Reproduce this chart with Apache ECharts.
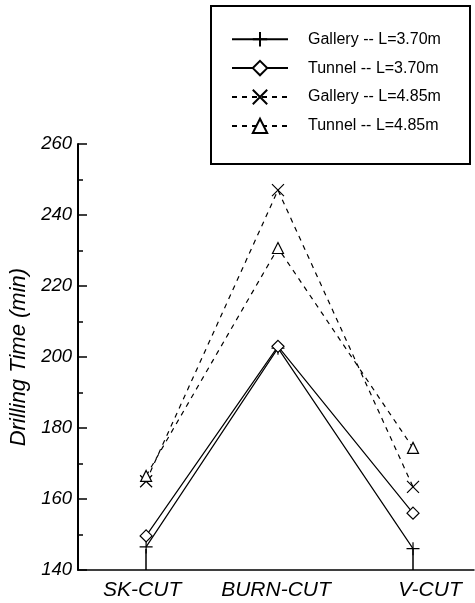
<!DOCTYPE html>
<html>
<head>
<meta charset="utf-8">
<script src="https://cdn.jsdelivr.net/npm/echarts@6/dist/echarts.min.js"></script>
<style>
  html, body { margin: 0; padding: 0; background: #fff; }
  #chart { width: 475px; height: 603px; }
</style>
</head>
<body>
<div id="chart"></div>
<script>
// cut types and where they sit on the (unevenly spaced) x axis
const cuts = ["SK-CUT", "BURN-CUT", "V-CUT"];
const cutPos = [1.72, 5.05, 8.46];
const cutLabelPos = [1.62, 5.0, 8.89];

// drilling time in minutes
const galleryL370 = [146.5, 202.5, 146];
const tunnelL370 = [149.6, 203, 156];
const galleryL485 = [165, 247, 163.4];
const tunnelL485 = [166.5, 230.7, 174.4];

const yTicks = [140, 160, 180, 200, 220, 240, 260];

const FONT = "'Liberation Sans', Arial, sans-serif";
const plusPath = "path://M0,5L10,5M5,0L5,10";
const crossPath = "path://M0,0L10,10M10,0L0,10";

const chart = echarts.init(document.getElementById("chart"));

function makeSeries(name, values, symbol, size, dashed) {
  return {
    name,
    type: "line",
    data: values.map((v, i) => [cutPos[i], v]),
    symbol,
    symbolSize: size,
    lineStyle: { color: "#000", width: 1.2, type: dashed ? [5, 5] : "solid" },
    itemStyle: { color: "#fff", borderColor: "#000", borderWidth: 1.2 },
    emphasis: { disabled: true },
  };
}

const option = {
  animation: false,
  backgroundColor: "#fff",
  grid: { left: 78, right: 1, top: 144, bottom: 33, outerBoundsMode: "none" },
  legend: {
    orient: "vertical",
    left: 231,
    top: 31,
    padding: 0,
    itemWidth: 56,
    itemHeight: 18,
    itemGap: 12.5,
    textStyle: { fontFamily: FONT, fontSize: 16, color: "#000", padding: [0, 0, 0, 15] },
    data: ["Gallery -- L=3.70m", "Tunnel -- L=3.70m", "Gallery -- L=4.85m", "Tunnel -- L=4.85m"],
  },
  graphic: [
    {
      type: "rect",
      shape: { x: 211, y: 6, width: 259, height: 158 },
      style: { fill: "none", stroke: "#000", lineWidth: 2 },
    },
  ],
  xAxis: {
    type: "value",
    min: 0,
    max: 10,
    splitLine: { show: false },
    axisLine: { lineStyle: { color: "#000", width: 1.5 } },
    axisTick: {
      show: true,
      inside: true,
      length: 21,
      customValues: [cutPos[0], cutPos[2]],
      lineStyle: { color: "#000", width: 1.5 },
    },
    axisLabel: {
      customValues: cutLabelPos,
      margin: 10,
      fontFamily: FONT,
      fontSize: 21,
      fontStyle: "italic",
      color: "#000",
      formatter: (v) => {
        let best = 0;
        cutLabelPos.forEach((p, i) => {
          if (Math.abs(p - v) < Math.abs(cutLabelPos[best] - v)) best = i;
        });
        return cuts[best];
      },
    },
  },
  yAxis: {
    type: "value",
    min: yTicks[0],
    max: yTicks[yTicks.length - 1],
    interval: 20,
    name: "Drilling Time (min)",
    nameLocation: "middle",
    nameRotate: 90,
    nameGap: 48,
    nameTextStyle: { fontFamily: FONT, fontSize: 22, fontStyle: "italic", color: "#000" },
    splitLine: { show: false },
    axisLine: { lineStyle: { color: "#000", width: 2 } },
    axisTick: { inside: true, length: 9, lineStyle: { color: "#000", width: 1.5 } },
    minorTick: { show: true, splitNumber: 2, length: 5, lineStyle: { color: "#000", width: 1.5 } },
    axisLabel: {
      margin: 6,
      fontFamily: FONT,
      fontSize: 18.5,
      fontStyle: "italic",
      color: "#000",
    },
  },
  series: [
    makeSeries("Gallery -- L=3.70m", galleryL370, plusPath, 13, false),
    makeSeries("Tunnel -- L=3.70m", tunnelL370, "diamond", 12, false),
    makeSeries("Gallery -- L=4.85m", galleryL485, crossPath, 12, true),
    makeSeries("Tunnel -- L=4.85m", tunnelL485, "triangle", 11, true),
  ],
};

chart.setOption(option);
</script>
</body>
</html>
